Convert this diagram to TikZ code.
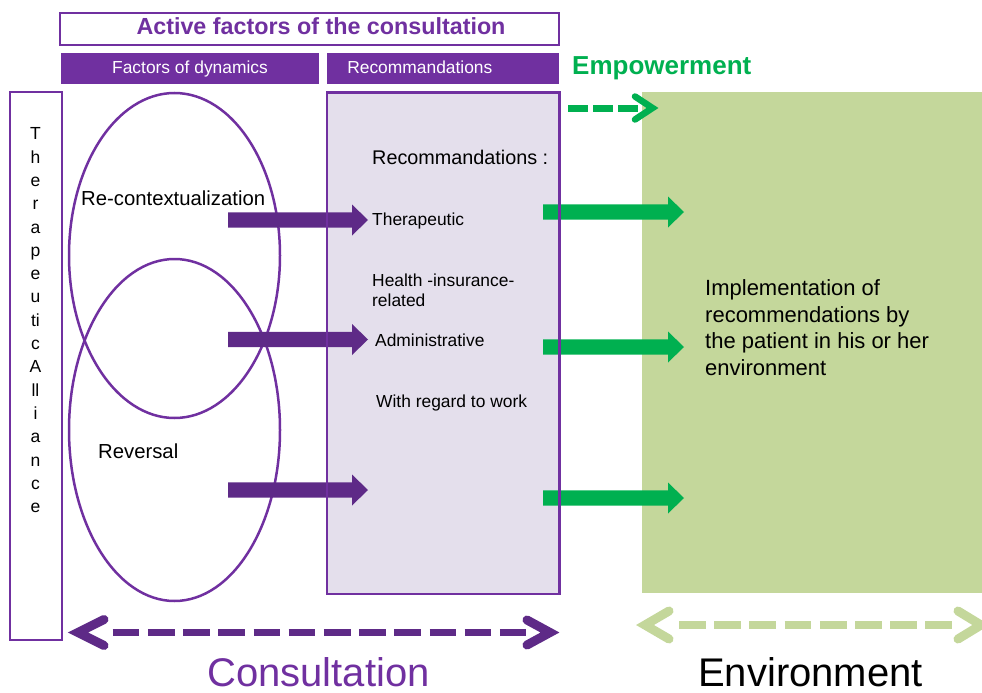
\documentclass[tikz,border=0pt]{standalone}
\usepackage{fontspec}
\setmainfont{Liberation Sans}
\usetikzlibrary{shapes.geometric}
\definecolor{purp}{HTML}{7030A0}
\definecolor{dpurp}{HTML}{5E2A87}
\definecolor{lav}{HTML}{E4DFEC}
\definecolor{grn}{HTML}{00B050}
\definecolor{lgrn}{HTML}{C4D79B}
\newcommand\fs[2]{\fontsize{#1}{#2}\selectfont}
\newcommand\blockarrow[5]{%
  \fill[#1] (#2,#5-7.6) -- (#3,#5-7.6) -- (#3,#5-15.5) -- (#4,#5) -- (#3,#5+15.5) -- (#3,#5+7.6) -- (#2,#5+7.6) -- cycle;}
\begin{document}
\begin{tikzpicture}[x=1pt,y=-1pt,
  frame/.style={draw=purp, line width=2.5pt, inner sep=0},
  bar/.style={fill=purp, inner sep=0, text=white, font=\fs{17.4}{20}, text height=12.5pt, text depth=3.5pt},
  lbl/.style={inner sep=0, anchor=base west, text=black},
  oval/.style={draw=purp, line width=2.5pt, ellipse, inner sep=0},
  dashline/.style={line width=7.7pt, dash pattern=on 26.7pt off 8.5pt},
  chev/.style={line width=9pt, line cap=round, miter limit=20},
]
\useasboundingbox (0,0) rectangle (982,693);

% environment box
\node (env) [fill=lgrn, inner sep=0, minimum width=340pt, minimum height=501pt] at (812,342.5) {};
% recommendations box (fill)
\node (rec) [fill=lav, inner sep=0, minimum width=232pt, minimum height=501pt] at (443.3,343.3) {};

% title
\node (title) [frame, fill=white, minimum width=499pt, minimum height=32pt] at (309.5,28.9) {};
\node (titletxt) [inner sep=0, anchor=base, text=purp, font=\bfseries\fs{23.3}{28}] at (321,34.3) {Active factors of the consultation};

% header bars
\node (hdr1) [bar, minimum width=258pt, minimum height=31pt] at (190,68.8) {Factors of dynamics};
\node (hdr2) [bar, minimum width=232pt, minimum height=31pt, inner xsep=20pt, text width=192pt, align=left] at (443.3,68.8) {Recommandations};

% empowerment
\node (emp) [inner sep=0, anchor=base west, text=grn, font=\bfseries\fs{26}{30}] at (572,74.3) {Empowerment};
\draw[grn, line width=7pt, dash pattern=on 19.5pt off 5.5pt] (568,108) -- (642,108);
\draw[grn, line width=6.5pt, line cap=round, miter limit=20] (635,96.5) -- (652.5,108) -- (635,119.5);

% therapeutic alliance
\node (ta) [frame, fill=white, minimum width=52pt, minimum height=548pt] at (36,366) {};
\node (talbl) [inner sep=0, anchor=north, align=center, font=\fs{17.5}{23.3}] at (35.5,127.6) {T\\h\\e\\r\\a\\p\\e\\u\\ti\\c\\A\\ll\\i\\a\\n\\c\\e};

% ellipses
\node (e1) [oval, minimum width=211pt, minimum height=325pt] at (174.5,255.5) {};
\node (e2) [oval, minimum width=211pt, minimum height=342pt] at (174.5,430) {};
\node (recon) [lbl, font=\fs{20.3}{24}] at (81,205) {Re-contextualization};
\node (rev) [lbl, font=\fs{20.3}{24}] at (98,458.5) {Reversal};

% purple block arrows
\blockarrow{dpurp}{228}{352}{368}{220}
\blockarrow{dpurp}{228}{352}{368}{339.5}
\blockarrow{dpurp}{228}{352}{368}{490}

% green block arrows
\blockarrow{grn}{543}{668}{684}{212}
\blockarrow{grn}{543}{668}{684}{347}
\blockarrow{grn}{543}{668}{684}{498}

% recommendation box border
\draw[purp, line width=2.5pt] (rec.north west) rectangle (rec.south east);

% recommendation texts
\node (rtitle) [lbl, font=\fs{19.8}{24}] at (372,164.3) {Recommandations :};
\node (r1) [lbl, font=\fs{17.4}{20}] at (372,225.7) {Therapeutic};
\node (r2) [inner sep=0, anchor=north west, align=left, font=\fs{17.4}{20}] at (372,273.5) {Health -insurance-\\related};
\node (r3) [lbl, font=\fs{17.4}{20}] at (375,346.7) {Administrative};
\node (r4) [lbl, font=\fs{17.4}{20}] at (376,407.7) {With regard to work};

% implementation text
\node (impl) [inner sep=0, anchor=north west, align=left, font=\fs{22}{26.7}] at (705,279.2) {Implementation of\\recommendations by\\the patient in his or her\\environment};

% consultation double arrow
\draw[dpurp, dashline] (112.7,632.5) -- (526,632.5);
\draw[dpurp, chev] (104,619.5) -- (78,632.5) -- (104,645.5);
\draw[dpurp, chev] (527,620) -- (550,632.5) -- (527,645);

% environment double arrow
\draw[lgrn, dashline] (679,625) -- (952,625);
\draw[lgrn, chev] (669,611) -- (645,625) -- (669,639);
\draw[lgrn, chev] (958,611) -- (981,625) -- (958,639);

% bottom labels
\node (cons) [lbl, text=purp, font=\fs{40}{48}] at (207,686) {Consultation};
\node (envlbl) [lbl, font=\fs{40}{48}] at (698,686) {Environment};
\end{tikzpicture}
\end{document}
